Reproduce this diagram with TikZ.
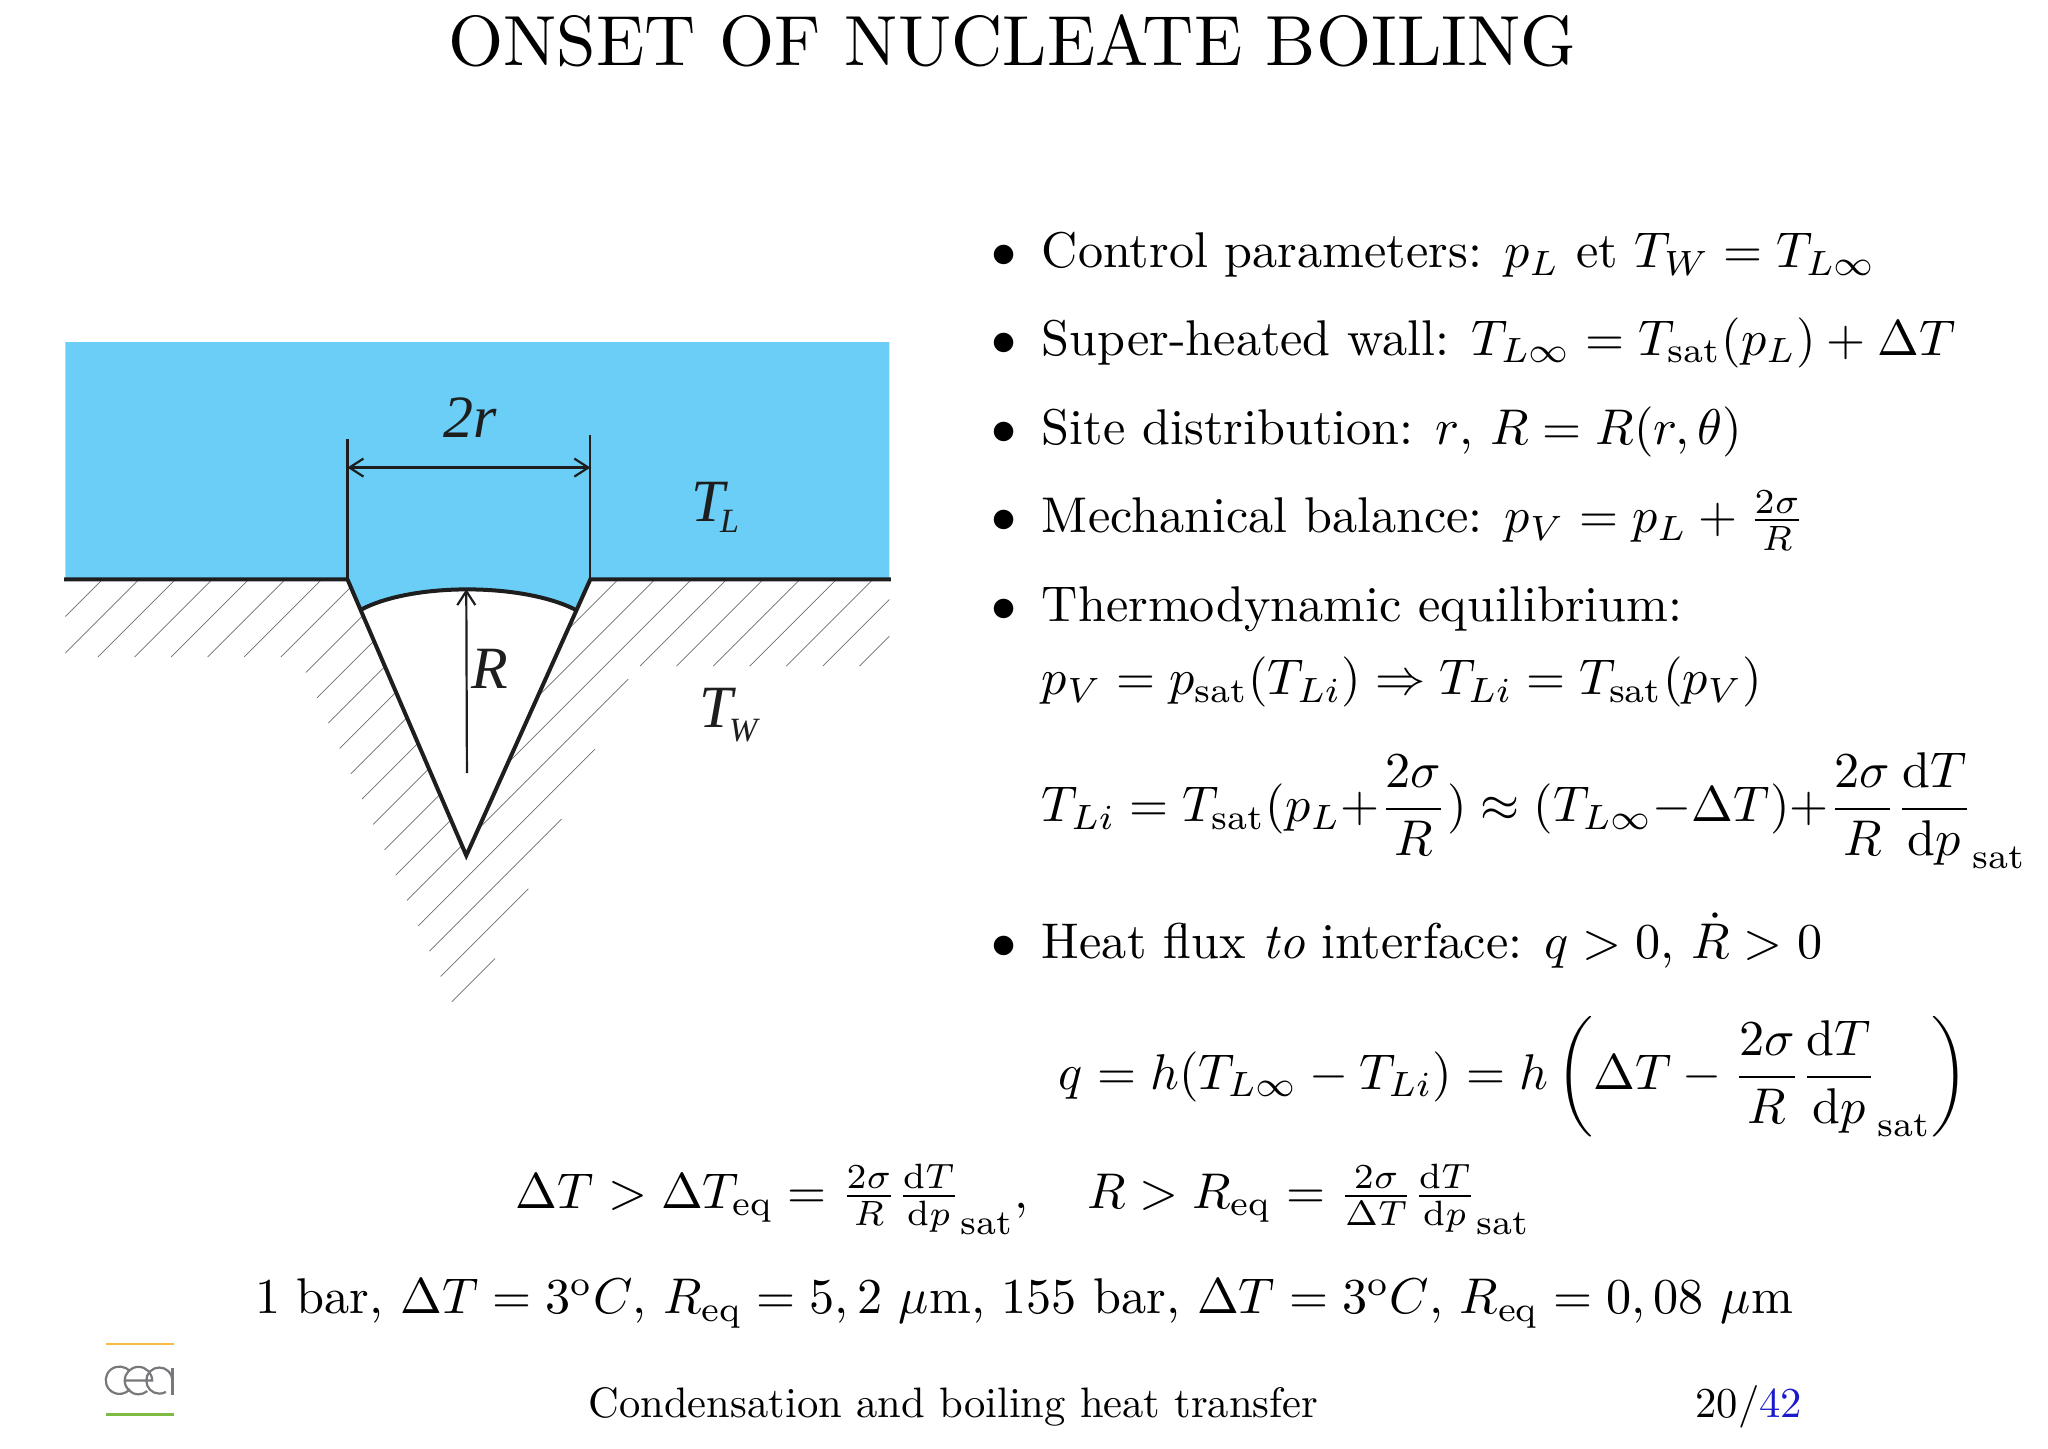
\documentclass[tikz,border=0pt]{standalone}
\usepackage{amsmath}
\usepackage{fontspec}
\newfontfamily\figfont{Liberation Serif}
\usetikzlibrary{arrows.meta}
\definecolor{liquid}{HTML}{6BCEF6}
\definecolor{ink}{HTML}{1E1E1E}
\definecolor{logogray}{HTML}{77787B}
\definecolor{pagenum}{HTML}{1A1ACC}
\definecolor{logoorange}{HTML}{F5BC45}
\definecolor{logogreen}{HTML}{7DBB42}
\tikzset{
  body/.style={anchor=base west,inner sep=0pt,scale=2.51,text=black},
  centered/.style={anchor=base,inner sep=0pt,scale=2.51,text=black},
  titletext/.style={anchor=base,inner sep=0pt,scale=3.55,text=black},
  figlabel/.style={anchor=base west,inner sep=0pt,font=\figfont\itshape\fontsize{30}{32}\selectfont,text=ink},
  figsub/.style={anchor=base west,inner sep=0pt,font=\figfont\itshape\fontsize{17}{18}\selectfont,text=ink},
  thickline/.style={draw=ink,line width=2pt},
  thinline/.style={draw=ink,line width=1.1pt},
  hatch/.style={draw=ink!65,line width=0.35pt},
  dim/.style={draw=ink,line width=1.1pt,{Straight Barb[length=7pt,width=9pt]}-{Straight Barb[length=7pt,width=9pt]}},
  logo/.style={draw=logogray,line width=1.1pt}
}
\begin{document}
\begin{tikzpicture}[x=0.653pt,y=-0.653pt]
\useasboundingbox (0,0) rectangle (1568,1109);
% hatching
\begin{scope}
\clip (50,443) rectangle (681,780);
\foreach \k in {0,...,4} {
  \draw[hatch] ({346-8.6*\k},{767-19.4*\k}) -- ({379+25.5*\k},{734-53.5*\k});
}
\foreach \k in {5,...,13} {
  \draw[hatch] ({346-8.6*\k},{767-19.4*\k}) -- ({1113-28*\k-443},443);
}
\foreach \j in {0,...,6} {
  \draw[hatch] ({1000+28*\j-510},510) -- ({1000+28*\j-443},443);
}
\foreach \j in {-1,...,7} {
  \draw[hatch] ({690-28*\j-503},503) -- ({690-28*\j-443},443);
}
\end{scope}
% wedge and liquid
\coordinate (wl) at (266,443.5);
\coordinate (wr) at (452,443.5);
\coordinate (apex) at (357,655);
\coordinate (il) at (276,467);
\coordinate (ir) at (441,467);
\coordinate (itop) at (357,451);
\fill[white] (wl) -- (apex) -- (wr) -- cycle;
\fill[liquid] (50,262) -- (681,262) -- (681,443.5) -- (wr) -- (ir) .. controls (400,446) and (315,446) .. (il) -- (wl) -- (50,443.5) -- cycle;
\draw[thickline] (49,443.5) -- (wl) -- (apex) -- (wr) -- (682,443.5);
\draw[thickline] (il) .. controls (315,446) and (400,446) .. (ir);
\draw[thinline] (wl) -- (266,336);
\draw[thinline] (wr) -- (452,333);
\coordinate (dl) at (266,358);
\coordinate (dr) at (452,358);
\draw[dim] (dl) -- (dr);
\coordinate (rb) at (357.5,592);
\draw[draw=ink,line width=1.1pt,-{Straight Barb[length=7pt,width=9pt]}] (rb) -- (itop);
\node[figlabel] (l2r) at (339,335) {2r};
\node[figlabel] (lR) at (361,527) {R};
\node[figlabel] (lTL) at (529,399) {T};
\node[figsub] (lTLs) at (551,408) {L};
\node[figlabel] (lTW) at (535,557) {T};
\node[figsub] (lTWs) at (558,568) {W};
% title
\node[titletext] (title) at (775,50) {ONSET OF NUCLEATE BOILING};
% bullets
\node[body] (b1) at (758,205) {$\bullet$};
\node[body] (t1) at (797,205) {Control parameters: $p_L$ et $T_W=T_{L\infty}$};
\node[body] (b2) at (758,272) {$\bullet$};
\node[body] (t2) at (797,272) {Super-heated wall: $T_{L\infty}=T_{\mathrm{sat}}(p_L)+\Delta T$};
\node[body] (b3) at (758,340) {$\bullet$};
\node[body] (t3) at (797,340) {Site distribution: $r$, $R=R(r,\theta)$};
\node[body] (b4) at (758,408) {$\bullet$};
\node[body] (t4) at (797,408) {Mechanical balance: $p_V=p_L+\frac{2\sigma}{R}$};
\node[body] (b5) at (758,476) {$\bullet$};
\node[body] (t5) at (797,476) {Thermodynamic equilibrium:};
\node[body] (t5b) at (797,532) {$p_V=p_{\mathrm{sat}}(T_{Li})\Rightarrow T_{Li}=T_{\mathrm{sat}}(p_V)$};
\node[body] (eq1) at (797,629) {$\displaystyle T_{Li}=T_{\mathrm{sat}}(p_L{+}\frac{2\sigma}{R})\approx(T_{L\infty}{-}\Delta T){+}\frac{2\sigma}{R}\frac{\mathrm{d}T}{\mathrm{d}p}_{\mathrm{sat}}$};
\node[body] (b6) at (758,734) {$\bullet$};
\node[body] (t6) at (797,734) {Heat flux \textit{to} interface: $q>0$, $\dot{R}>0$};
\node[body] (eq2) at (810,834) {$\displaystyle q=h(T_{L\infty}-T_{Li})=h\left(\Delta T-\frac{2\sigma}{R}\frac{\mathrm{d}T}{\mathrm{d}p}_{\mathrm{sat}}\right)$};
\node[centered] (eq3) at (783.5,925) {$\Delta T>\Delta T_{\mathrm{eq}}=\frac{2\sigma}{R}\frac{\mathrm{d}T}{\mathrm{d}p}_{\mathrm{sat}},\quad R>R_{\mathrm{eq}}=\frac{2\sigma}{\Delta T}\frac{\mathrm{d}T}{\mathrm{d}p}_{\mathrm{sat}}$};
\node[centered] (eq4) at (784,1006) {1 bar, $\Delta T=3^{\mathrm{o}}C$, $R_{\mathrm{eq}}=5,2$ $\mu$m, 155 bar, $\Delta T=3^{\mathrm{o}}C$, $R_{\mathrm{eq}}=0,08$ $\mu$m};
% footer
\node[anchor=base,inner sep=0pt,scale=2.13] (foot) at (730,1085) {Condensation and boiling heat transfer};
\node[anchor=base,inner sep=0pt,scale=2.13] (page) at (1339,1085) {20/\textcolor{pagenum}{42}};
% logo
\draw[draw=logoorange,line width=1.3pt] (81,1029) -- (133,1029);
\draw[draw=logogreen,line width=1.3pt] (81,1083) -- (133,1083);
\draw[logo] (99.5,1050) arc[start angle=-40,end angle=-320,radius=10.5];
\draw[logo] (95.5,1057) -- (116.5,1057) arc[start angle=0,end angle=-310,radius=10.5];
\draw[logo] (132,1057) arc[start angle=0,end angle=-300,radius=10];
\draw[logo] (132,1047) -- (132,1068);
\end{tikzpicture}
\end{document}
